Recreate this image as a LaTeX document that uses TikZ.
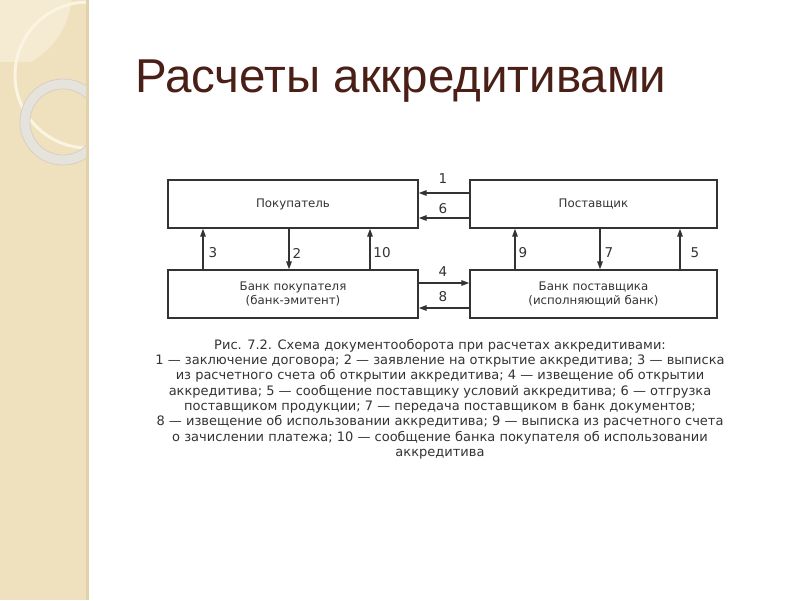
\documentclass[tikz,border=0pt]{standalone}
\usepackage{fontspec}
\setmainfont{DejaVu Sans}
\newfontfamily\titlefont{Liberation Sans}
\usetikzlibrary{arrows.meta,calc}
\definecolor{stripcol}{HTML}{EFE1BE}
\definecolor{stripedge}{HTML}{E2D2AC}
\definecolor{lightcream}{HTML}{F5EBD3}
\definecolor{creamline}{HTML}{FBF4E2}
\definecolor{ringcol}{HTML}{E6E3DC}
\definecolor{ringedge}{HTML}{D6D0C4}
\definecolor{titlecol}{HTML}{4A1F16}
\definecolor{inkcol}{HTML}{333333}
\begin{document}
\begin{tikzpicture}[x=1pt,y=-1pt,
  boxnode/.style={draw=inkcol,line width=1.4pt,minimum height=48pt,inner sep=0pt,
    text=inkcol,font=\fontsize{11.8}{14.5}\selectfont,align=center},
  arr/.style={draw=inkcol,line width=1.4pt,-{Triangle[length=8pt,width=5.5pt]}},
  numlab/.style={text=inkcol,font=\fontsize{13.5}{15}\selectfont,inner sep=0pt},
  captext/.style={text=inkcol,font=\fontsize{13}{15.3}\selectfont,align=center,inner sep=0pt}]
\useasboundingbox (0,0) rectangle (800,600);
\fill[white] (0,0) rectangle (800,600);
% left decorative strip
\fill[stripcol] (0,0) rectangle (88,600);
\fill[stripedge] (85.5,0) rectangle (88.5,600);
\begin{scope}
  \clip (0,0) rectangle (86,600);
  \begin{scope}
    \clip (-8,-8) circle (80);
    \fill[lightcream] (0,0) rectangle (86,62);
  \end{scope}
  \draw[creamline,line width=3pt] (88,75) circle (73);
  \fill[ringcol,even odd rule] (63,122) circle (43) (63,122) circle (33);
  \draw[ringedge,line width=0.8pt] (63,122) circle (43) (63,122) circle (33);
\end{scope}
% title
\node[anchor=base west,inner sep=0pt,text=titlecol,font=\titlefont\fontsize{47.5}{48}\selectfont] (title) at (135,92) {Расчеты аккредитивами};
% boxes
\node[boxnode,minimum width=250pt] (buyer) at (293,204) {Покупатель};
\node[boxnode,minimum width=247pt] (supplier) at (593.5,204) {Поставщик};
\node[boxnode,minimum width=250pt] (bbank) at (293,294) {Банк покупателя\\(банк-эмитент)};
\node[boxnode,minimum width=247pt] (sbank) at (593.5,294) {Банк поставщика\\(исполняющий банк)};
% horizontal arrows
\draw[arr] ([yshift=11pt]supplier.west) -- ([yshift=11pt]buyer.east);
\draw[arr] ([yshift=-14pt]supplier.west) -- ([yshift=-14pt]buyer.east);
\draw[arr] ([yshift=11pt]bbank.east) -- ([yshift=11pt]sbank.west);
\draw[arr] ([yshift=-14pt]sbank.west) -- ([yshift=-14pt]bbank.east);
% vertical arrows
\draw[arr] ([xshift=-90pt]bbank.north) -- ([xshift=-90pt]buyer.south);
\draw[arr] ([xshift=-4pt]buyer.south) -- ([xshift=-4pt]bbank.north);
\draw[arr] ([xshift=77pt]bbank.north) -- ([xshift=77pt]buyer.south);
\draw[arr] ([xshift=-78.5pt]sbank.north) -- ([xshift=-78.5pt]supplier.south);
\draw[arr] ([xshift=6.5pt]supplier.south) -- ([xshift=6.5pt]sbank.north);
\draw[arr] ([xshift=86.5pt]sbank.north) -- ([xshift=86.5pt]supplier.south);
% labels
\node[numlab] (l1) at (443,179) {1};
\node[numlab] (l6) at (443,209) {6};
\node[numlab] (l4) at (443,272) {4};
\node[numlab] (l8) at (443,297) {8};
\node[numlab] (l3) at (213,253) {3};
\node[numlab] (l2) at (297,253) {2};
\node[numlab] (l10) at (382,253) {10};
\node[numlab] (l9) at (523,253) {9};
\node[numlab] (l7) at (609,253) {7};
\node[numlab] (l5) at (695,253) {5};
% caption
\node[captext,anchor=north] (caption) at (440,339) {Рис. 7.2. Схема документооборота при расчетах аккредитивами:\\
1 — заключение договора; 2 — заявление на открытие аккредитива; 3 — выписка\\
из расчетного счета об открытии аккредитива; 4 — извещение об открытии\\
аккредитива; 5 — сообщение поставщику условий аккредитива; 6 — отгрузка\\
поставщиком продукции; 7 — передача поставщиком в банк документов;\\
8 — извещение об использовании аккредитива; 9 — выписка из расчетного счета\\
о зачислении платежа; 10 — сообщение банка покупателя об использовании\\
аккредитива};
\end{tikzpicture}
\end{document}
